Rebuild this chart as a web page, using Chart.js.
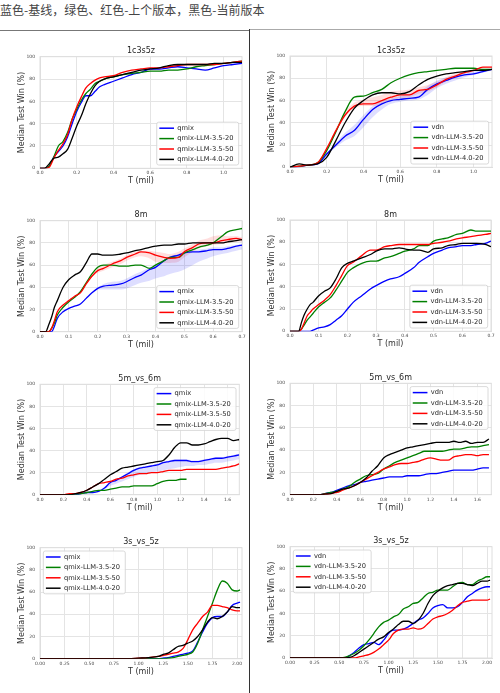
<!DOCTYPE html>
<html><head><meta charset="utf-8">
<script src="https://cdn.jsdelivr.net/npm/chart.js@4.4.1/dist/chart.umd.min.js"></script>
<style>
html,body{margin:0;padding:0;background:#fff;}
body{width:500px;height:693px;position:relative;overflow:hidden}
#hdr{position:absolute;left:0;top:1px;font-size:12px;line-height:17px;font-family:"Noto Sans CJK SC";color:#444;white-space:nowrap}
.ln{position:absolute}
canvas{position:absolute}
</style></head><body>
<div id="hdr">蓝色-基线，绿色、红色-上个版本，黑色-当前版本</div>
<div class="ln" style="left:0;top:30px;width:249px;height:1px;background:#777"></div>
<div class="ln" style="left:250px;top:29px;width:250px;height:1px;background:#aaa"></div>
<div class="ln" style="left:249px;top:29px;width:1px;height:664px;background:#333"></div>
<script>
// ---------- labels ----------
const qmixLabels = ['qmix', 'qmix-LLM-3.5-20', 'qmix-LLM-3.5-50', 'qmix-LLM-4.0-20'];
const vdnLabels = ['vdn', 'vdn-LLM-3.5-20', 'vdn-LLM-3.5-50', 'vdn-LLM-4.0-20'];
const mapTitles = ['1c3s5z', '8m', '5m_vs_6m', '3s_vs_5z'];
const yTicks = [0, 20, 40, 60, 80, 100];

// ---------- 1c3s5z ----------
const T1 = [0,0.025,0.05,0.075,0.1,0.125,0.15,0.175,0.2,0.225,0.25,0.275,0.3,0.325,0.35,0.4,0.45,0.5,0.55,0.6,0.65,0.7,0.75,0.8,0.85,0.9,0.95,1.0,1.05,1.1];
const p1Blue  = [0,0,2,10,15,20,28,40,51,59,65,65,69,73,75,78,81,84,86,89,89,90,91,90,89,88,90,92,93,94];
const p1Green = [0,0,2,10,20,24,32,44,53,61,67,71,76,78,80,82,84,85,86,87,87,88,88,89,91,92,93,94,95,96];
const p1Red   = [0,0,1,9,16,22,30,44,55,64,72,76,79,81,82,83,86,88,89,90,90,91,92,93,93,93,93,94,95,96];
const p1Black = [0,0,4,9,10,13,17,27,38,47,58,67,74,78,80,82,84,86,88,89,90,92,93,93,93,93,94,94,95,95];

const T2 = [0,0.05,0.1,0.15,0.2,0.25,0.3,0.35,0.4,0.45,0.5,0.55,0.6,0.65,0.7,0.75,0.8,0.85,0.9,0.95,1.0,1.05,1.1];
const p2Blue  = [0,0.5,2,3,12,20,28,33,43,52,57,60,61,62,63,70,75,78,81,83,84,86,88];
const p2Green = [0,1,2,4,15,32,50,63,64,67,70,76,80,83,85,86,87,88,89,89,89,88,88];
const p2Red   = [0,1,2,4,17,33,47,55,57,57,60,63,65,65,69,70,74,79,82,85,87,90,90];
const p2Black = [0,3,2,3,9,24,40,53,60,65,67,67,66,68,74,79,82,84,85,86,87,87,88];
const p2BlueHi = [0,0.5,2,3,13,22,31,38,47,55,60,62,64,66,68,73,78,81,83,85,86,87,88];
const p2BlueLo = [0,0.5,2,3,11,18,24,28,36,45,52,57,59,60,61,65,71,75,78,81,83,85,87];
const p2RedHi  = [0,1,2,4,18,35,50,58,61,63,65,68,69,70,72,74,77,81,84,86,88,90,90];
const p2RedLo  = [0,1,2,4,16,31,45,53,55,55,57,60,62,63,66,68,72,77,80,84,86,89,90];

// ---------- 8m ----------
const T3 = [0,0.02,0.03,0.04,0.05,0.06,0.08,0.1,0.12,0.14,0.16,0.18,0.2,0.22,0.25,0.28,0.3,0.33,0.35,0.38,0.4,0.43,0.45,0.48,0.5,0.53,0.55,0.58,0.6,0.63,0.65,0.68,0.7];
const p3Blue  = [0,0,0,0,5,12,18,21,23,25,30,35,39,41,42,43,45,49,51,56,58,64,67,69,71,72,72,73,74,74,75,77,78];
const p3Green = [0,0,0,3,8,15,22,27,31,36,44,52,58,60,60,59,59,60,60,57,60,64,67,67,71,74,76,78,80,86,90,92,93];
const p3Red   = [0,0,0,3,10,18,24,28,32,35,43,50,55,57,61,64,67,70,72,71,69,67,66,67,72,76,79,80,80,82,83,84,83];
const p3Black = [0,0,6,13,22,28,40,47,51,54,62,70,70,69,69,70,71,73,74,76,77,78,78,79,79,80,80,80,80,80,81,82,83];
const p3BlueHi = [0,0,0,0,5,12,18,21,23,25,30,35,40,43,45,46,48,52,54,58,60,65,68,70,72,73,74,75,76,76,77,78,79];
const p3BlueLo = [0,0,0,0,5,12,18,21,23,25,30,35,38,38,38,38,39,42,44,46,48,50,52,54,56,60,63,66,68,70,71,73,74];
const p3RedHi  = [0,0,0,3,10,18,24,28,32,35,43,50,57,60,63,66,69,72,73,73,72,71,70,72,75,79,82,84,86,87,86,86,85];
const p3RedLo  = [0,0,0,3,10,18,24,28,32,35,43,50,53,55,58,61,64,67,68,66,63,62,62,63,67,72,75,77,78,79,80,81,81];

const T4 = [0,0.03,0.04,0.05,0.06,0.07,0.08,0.1,0.12,0.14,0.16,0.18,0.2,0.22,0.25,0.28,0.3,0.33,0.35,0.38,0.4,0.43,0.45,0.48,0.5,0.53,0.55,0.58,0.6,0.63,0.65,0.68,0.7];
const p4Blue  = [0,0,0,0,0,0,1,3,4,6,10,14,20,26,32,38,41,45,47,49,52,57,62,67,70,73,75,76,77,77,78,79,81];
const p4Green = [0,0,2,6,10,13,16,22,26,30,37,45,53,57,61,63,63,66,67,70,72,74,77,77,81,83,84,87,88,91,90,90,90];
const p4Red   = [0,0,2,8,14,17,20,24,28,33,41,50,59,62,68,73,73,76,77,78,78,78,78,78,79,80,81,83,84,85,86,87,88];
const p4Black = [0,0,8,15,20,24,26,32,36,39,47,57,61,63,66,69,72,74,74,75,74,73,73,71,74,75,77,78,79,79,79,78,76];

// ---------- 5m_vs_6m ----------
const T5 = [0,0.05,0.1,0.15,0.2,0.25,0.3,0.35,0.4,0.45,0.5,0.55,0.6,0.65,0.7,0.75,0.8,0.85,0.9,0.95,1.0,1.05,1.1,1.15,1.2,1.25,1.3,1.35,1.4,1.45,1.5,1.55,1.6,1.65,1.7];
const p5Blue  = [0,0,0,0,0,0,0,1,2,2,3,6,11,13,16,19,22,24,25,26,27,29,30,31,31,31,30,30,31,32,33,33,34,35,36];
const p5Green = [0,0,0,0,0,0,0.5,1,2,3,4,4,5,6,7,7,8,8,8,8,10,12,13,13,14,14,null,null,null,null,null,null,null,null,null];
const p5Red   = [0,0,0,0,0,1,1,2,4,7,10,11,12,14,15,17,18,19,19,20,20,21,22,22,22,23,23,23,23,23,23,24,25,26,28];
const p5Black = [0,0,0,0,0,0,1,2,4,7,10,14,18,21,24,25,26,27,28,29,30,31,36,43,47,47,45,45,46,48,50,51,51,49,50];
const p5BlueHi = [0,0,0,0,0,0,0,1,2,2,3,6,11,14,17,20,23,25,26,27,28,30,31,32,32,32,31,31,32,33,34,34,35,36,37];
const p5BlueLo = [0,0,0,0,0,0,0,1,2,2,3,5,8,10,12,14,16,18,19,20,21,22,23,24,25,26,26,27,27,28,29,29,30,31,32];

const T6 = [0,0.05,0.1,0.15,0.2,0.25,0.3,0.35,0.4,0.45,0.5,0.55,0.6,0.65,0.7,0.75,0.8,0.85,0.9,0.95,1.0,1.05,1.1,1.15,1.2,1.25,1.3,1.35,1.4,1.45,1.5,1.55,1.6,1.65,1.7];
const p6Blue  = [0,0,0,0,0,0,1,2,4,6,8,9,11,12,13,14,15,16,16,16,17,17,17,18,19,19,20,21,22,22,22,22,23,24,24];
const p6Green = [0,0,0,0,0,0,1,2,3,5,7,11,14,17,18,19,23,26,29,31,33,35,37,39,39,39,39,40,41,41,42,43,43,44,45];
const p6Red   = [0,0,0,0,0,0,0.5,1,2,4,6,8,11,14,17,20,23,25,27,28,28,29,30,32,33,32,31,31,34,35,36,36,35,36,36];
const p6Black = [0,0,0,0,0,0,0.5,1,3,5,6,8,11,15,21,26,33,36,38,40,42,43,44,45,46,47,47,47,48,47,48,46,47,47,50];

// ---------- 3s_vs_5z ----------
const T7 = [0,0.25,0.5,0.75,0.9,1.0,1.1,1.2,1.25,1.3,1.35,1.4,1.45,1.5,1.55,1.6,1.65,1.7,1.75,1.8,1.85,1.9,1.95,2.0,2.03];
const p7Blue  = [0,0,0,0,0,0,0,0,0.5,1,2,3,4,5,7,15,24,32,37,38,38,42,48,50,51];
const p7Green = [0,0,0,0,0,0,0,0,0,0.5,1,2,3,4,6,14,26,38,50,62,70,68,62,61,62];
const p7Red   = [0,0,0,0,0,0.5,1,2,3,4,5,6,9,17,26,32,38,42,48,48,47,46,44,43,43];
const p7Black = [0,0,0,0,0,0.5,1,2,4,5,8,11,12,14,16,20,26,33,37,36,38,42,47,46,46];

const T8 = [0,0.25,0.5,0.55,0.6,0.65,0.7,0.75,0.8,0.85,0.9,0.95,1.0,1.05,1.1,1.15,1.2,1.25,1.3,1.35,1.4,1.45,1.5,1.55,1.6,1.65,1.7,1.75,1.8,1.85,1.9,1.95,2.0,2.03];
const p8Blue  = [0,0,0,0,2,5,9,12,13,14,12,16,22,25,25,26,28,31,34,36,40,45,47,48,45,45,46,50,55,58,61,63,64,64];
const p8Green = [0,0,0,0.5,2,4,7,11,16,22,28,32,34,37,39,44,46,49,50,54,58,59,61,61,61,64,67,68,66,66,69,71,73,73];
const p8Red   = [0,0,0,0,0,0,1,2,3,5,8,12,16,22,25,26,26,27,26,27,31,35,37,38,40,43,47,50,51,52,52,52,52,53];
const p8Black = [0,0,0,0,0.5,2,5,8,11,14,17,19,23,26,30,33,33,31,34,40,49,56,60,63,65,66,67,67,66,65,67,69,69,70];

// ---------- drawing ----------
const FONT = "'DejaVu Sans', sans-serif";
const COLORS = ['#0000ff', '#008000', '#ff0000', '#000000'];
const BLUE_BAND = 'rgba(0,0,255,0.13)';
const RED_BAND = 'rgba(255,0,0,0.13)';

const framePlugin = {
  id: 'frameLegend',
  beforeDatasetsDraw(chart, args, o) {
    const {ctx, chartArea: a} = chart;
    ctx.save();
    ctx.strokeStyle = '#dedede'; ctx.lineWidth = 1;
    ctx.strokeRect(a.left, a.top, a.right - a.left, a.bottom - a.top);
    ctx.restore();
  },
  afterDraw(chart, args, o) {
    const {ctx, chartArea: a} = chart;
    ctx.save();
    ctx.font = `8px ${FONT}`; ctx.fillStyle = '#262626';
    ctx.textAlign = 'center'; ctx.textBaseline = 'middle';
    ctx.fillText(o.title, (a.left + a.right) / 2, a.top - 5.3);
    const fs = 6.7, rowH = 10.4, padL = 2.6, hl = 14.7, gap = 3.3, padR = 5.2, padT = 6, padB = 5.6, inset = 3.3;
    ctx.font = `${fs}px ${FONT}`;
    const items = chart.data.datasets.slice(0, 4);
    const tw = Math.max(...items.map(d => ctx.measureText(d.label).width));
    const w = padL + hl + gap + tw + padR, h = padT + rowH * (items.length - 1) + padB;
    const right = o.loc.endsWith('right'), upper = o.loc.startsWith('upper');
    const x = right ? a.right - inset - w : a.left + inset;
    const y = upper ? a.top + inset : a.bottom - inset - h;
    ctx.beginPath(); ctx.roundRect(x, y, w, h, 2);
    ctx.fillStyle = 'rgba(255,255,255,0.85)'; ctx.fill();
    ctx.strokeStyle = '#d0d0d0'; ctx.lineWidth = 0.8; ctx.stroke();
    items.forEach((d, i) => {
      const cy = y + padT + i * rowH;
      ctx.strokeStyle = d.borderColor; ctx.lineWidth = 1.5;
      ctx.beginPath(); ctx.moveTo(x + padL, cy); ctx.lineTo(x + padL + hl, cy); ctx.stroke();
      ctx.fillStyle = '#262626'; ctx.textAlign = 'left'; ctx.textBaseline = 'middle';
      ctx.fillText(d.label, x + padL + hl + gap, cy);
    });
    ctx.restore();
  }
};

function makeChart(spec, xs, series, labels, title, bands) {
  const cLeft = spec.col ? 250 : 0, cW = spec.col ? 250 : 248;
  const top = Math.floor(spec.T - 24), bottom = Math.ceil(spec.B + 23);
  const cv = document.createElement('canvas');
  cv.width = cW; cv.height = bottom - top;
  cv.style.left = cLeft + 'px'; cv.style.top = top + 'px';
  document.body.appendChild(cv);
  const xH = bottom - spec.B, yW = spec.L - cLeft;
  const datasets = series.map((ys, i) => ({
    label: labels[i], data: xs.map((x, j) => ({x, y: ys[j]})),
    borderColor: COLORS[i], backgroundColor: COLORS[i], borderWidth: 1.3,
    pointRadius: 0, fill: false, order: 3 - i, cubicInterpolationMode: 'monotone'
  }));
  (bands || []).forEach(b => {
    datasets.push({label: '', data: xs.map((x, j) => ({x, y: b.hi[j]})), borderColor: 'transparent', borderWidth: 1,
      pointRadius: 0, backgroundColor: b.color, fill: '+1', order: 10, cubicInterpolationMode: 'monotone'});
    datasets.push({label: '', data: xs.map((x, j) => ({x, y: b.lo[j]})), borderColor: 'transparent', borderWidth: 1,
      pointRadius: 0, backgroundColor: b.color, fill: false, order: 10, cubicInterpolationMode: 'monotone'});
  });
  const grid = {color: '#e4e4e4', lineWidth: 1, drawTicks: false};
  new Chart(cv, {
    type: 'line',
    data: {datasets},
    plugins: [framePlugin],
    options: {
      responsive: false, animation: false, devicePixelRatio: 1,
      layout: {padding: {left: 0, right: cLeft + cW - spec.R, top: spec.T - top, bottom: 0}},
      plugins: {legend: {display: false}, tooltip: {enabled: false}, title: {display: false},
        frameLegend: {title, loc: spec.loc}},
      scales: {
        x: {type: 'linear', min: 0, max: spec.xmax,
          afterFit(s) { s.height = xH; },
          ticks: {stepSize: spec.step, includeBounds: false, autoSkip: false, maxRotation: 0,
            callback: v => Number(v).toFixed(spec.dec), font: {family: FONT, size: 4.5}, color: '#444', padding: 2.3},
          grid, border: {display: true, color: '#dedede'},
          title: {display: true, text: 'T (mil)', color: '#333', font: {family: FONT, size: 8},
            padding: {top: 0, bottom: xH - 12.8 - 4.8}}},
        y: {type: 'linear', min: 0, max: 100,
          afterFit(s) { s.width = yW; },
          afterBuildTicks(s) { s.ticks = yTicks.map(v => ({value: v})); },
          ticks: {callback: v => String(v), font: {family: FONT, size: 4.5}, color: '#444', padding: 5},
          grid, border: {display: true, color: '#dedede'},
          title: {display: true, text: 'Median Test Win (%)', color: '#333', font: {family: FONT, size: 8},
            padding: {top: 16.7, bottom: 0}}}
      }
    }
  });
}

makeChart({col: 0, T: 56.7, B: 168.3, L: 40, R: 242, xmax: 1.1, step: 0.2, dec: 1, loc: 'lower right'},
  T1, [p1Blue, p1Green, p1Red, p1Black], qmixLabels, mapTitles[0]);
makeChart({col: 1, T: 56, B: 167.3, L: 290, R: 492, xmax: 1.1, step: 0.2, dec: 1, loc: 'lower right'},
  T2, [p2Blue, p2Green, p2Red, p2Black], vdnLabels, mapTitles[0],
  [{hi: p2BlueHi, lo: p2BlueLo, color: BLUE_BAND}, {hi: p2RedHi, lo: p2RedLo, color: RED_BAND}]);
makeChart({col: 0, T: 220.7, B: 331.7, L: 40, R: 242, xmax: 0.7, step: 0.1, dec: 1, loc: 'lower right'},
  T3, [p3Blue, p3Green, p3Red, p3Black], qmixLabels, mapTitles[1],
  [{hi: p3BlueHi, lo: p3BlueLo, color: BLUE_BAND}, {hi: p3RedHi, lo: p3RedLo, color: RED_BAND}]);
makeChart({col: 1, T: 220, B: 331.3, L: 290, R: 491, xmax: 0.7, step: 0.1, dec: 1, loc: 'lower right'},
  T4, [p4Blue, p4Green, p4Red, p4Black], vdnLabels, mapTitles[1]);
makeChart({col: 0, T: 384.3, B: 494.7, L: 40, R: 239.3, xmax: 1.7, step: 0.2, dec: 1, loc: 'upper right'},
  T5, [p5Blue, p5Green, p5Red, p5Black], qmixLabels, mapTitles[2],
  [{hi: p5BlueHi, lo: p5BlueLo, color: BLUE_BAND}]);
makeChart({col: 1, T: 383.3, B: 494.7, L: 290, R: 491.3, xmax: 1.72, step: 0.2, dec: 1, loc: 'upper right'},
  T6, [p6Blue, p6Green, p6Red, p6Black], vdnLabels, mapTitles[2]);
makeChart({col: 0, T: 547.7, B: 658.7, L: 40, R: 242, xmax: 2.05, step: 0.25, dec: 2, loc: 'upper left'},
  T7, [p7Blue, p7Green, p7Red, p7Black], qmixLabels, mapTitles[3]);
makeChart({col: 1, T: 546.7, B: 658, L: 290, R: 492, xmax: 2.05, step: 0.25, dec: 2, loc: 'upper left'},
  T8, [p8Blue, p8Green, p8Red, p8Black], vdnLabels, mapTitles[3]);
</script>
</body></html>
